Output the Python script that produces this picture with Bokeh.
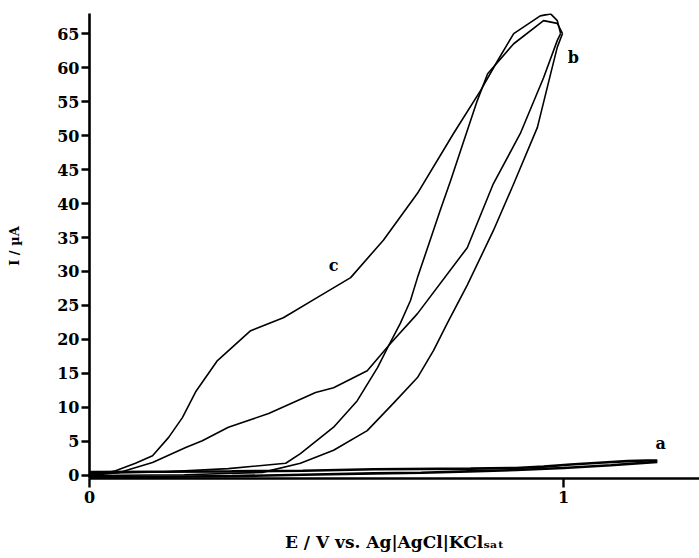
from bokeh.plotting import figure
from bokeh.models import Label, FixedTicker, Range1d
from bokeh.embed import file_html
from bokeh.resources import INLINE

# ---- data (E / V, I / uA) ----
# curve a (bare electrode): forward and reverse sweep
a_fwd_x = [0.0, 0.15, 0.3, 0.45, 0.6, 0.804, 0.9, 0.958, 1.015, 1.084, 1.135, 1.177, 1.198]
a_fwd_y = [0.5, 0.55, 0.6, 0.7, 0.9, 1.0, 1.1, 1.3, 1.6, 1.9, 2.1, 2.2, 2.2]
a_rev_x = [1.198, 1.1, 1.0, 0.9, 0.8, 0.7, 0.6, 0.45, 0.3, 0.15, 0.0]
a_rev_y = [2.0, 1.5, 1.1, 0.8, 0.6, 0.4, 0.3, 0.1, -0.1, -0.2, -0.2]

# curve b
b_fwd_x = [0.0, 0.2, 0.365, 0.445, 0.515, 0.586, 0.641, 0.692, 0.726, 0.755, 0.797,
           0.852, 0.895, 0.945, 0.973, 0.987, 0.998]
b_fwd_y = [0.0, 0.1, 0.45, 1.8, 3.7, 6.6, 10.6, 14.4, 18.4, 22.4, 28.0,
           36.0, 42.9, 51.2, 59.1, 63.0, 65.0]
b_rev_x = [0.998, 0.987, 0.958, 0.895, 0.84, 0.818, 0.783, 0.762, 0.74, 0.692, 0.677,
           0.656, 0.629, 0.608, 0.565, 0.515, 0.445, 0.414, 0.293, 0.15, 0.0]
b_rev_y = [65.0, 66.5, 66.9, 63.5, 59.1, 55.1, 47.8, 43.4, 39.0, 29.1, 25.7,
           22.4, 18.8, 15.9, 11.0, 7.1, 3.2, 1.8, 1.0, 0.5, 0.3]

# curve c
c_fwd_x = [0.0, 0.03, 0.055, 0.097, 0.133, 0.167, 0.196, 0.224, 0.27, 0.34, 0.409,
           0.481, 0.551, 0.62, 0.692, 0.768, 0.825, 0.861, 0.895, 0.951, 0.973, 0.987, 0.994]
c_fwd_y = [0.1, 0.3, 0.7, 1.8, 2.9, 5.6, 8.5, 12.3, 16.9, 21.3, 23.2,
           26.2, 29.1, 34.6, 41.5, 50.3, 56.6, 61.0, 65.0, 67.6, 67.9, 66.9, 65.0]
c_rev_x = [0.994, 0.987, 0.958, 0.909, 0.852, 0.797, 0.692, 0.635, 0.586, 0.515, 0.477,
           0.378, 0.293, 0.238, 0.203, 0.133, 0.061, 0.0]
c_rev_y = [65.0, 64.0, 58.5, 50.3, 42.9, 33.5, 23.8, 19.4, 15.4, 12.9, 12.2,
           9.1, 7.1, 5.1, 4.1, 1.9, 0.4, 0.0]

curve_names = ["a", "b", "c"]
x_ticks = [0, 1]
y_ticks = [0, 5, 10, 15, 20, 25, 30, 35, 40, 45, 50, 55, 60, 65]
x_title = "E / V vs. Ag|AgCl|KCl\u209b\u2090\u209c"
y_title = "I / µA"

FONT = "DejaVu Serif"

p = figure(width=699, height=558, output_backend="svg", toolbar_location=None,
           x_range=Range1d(0, 1.287), y_range=Range1d(-0.45, 67.95),
           min_border_left=89, min_border_right=0, min_border_top=13, min_border_bottom=80)
p.outline_line_color = None
p.xgrid.visible = False
p.ygrid.visible = False
p.background_fill_color = "white"
p.border_fill_color = "white"

for xs, ys in [(a_fwd_x, a_fwd_y), (a_rev_x, a_rev_y)]:
    p.line(xs, ys, line_color="black", line_width=2.6)
for xs, ys in [(b_fwd_x, b_fwd_y), (b_rev_x, b_rev_y), (c_fwd_x, c_fwd_y), (c_rev_x, c_rev_y)]:
    p.line(xs, ys, line_color="black", line_width=1.6, line_join="round")

for ax in (p.xaxis, p.yaxis):
    ax.axis_line_width = 2.6
    ax.axis_line_color = "black"
    ax.major_tick_line_width = 2.4
    ax.major_tick_line_color = "black"
    ax.major_tick_in = 0
    ax.minor_tick_line_color = None
    ax.major_label_text_font = FONT
    ax.major_label_text_font_style = "bold"
    ax.major_label_text_font_size = "16px"
    ax.major_label_text_color = "black"
    ax.axis_label_text_font = FONT
    ax.axis_label_text_font_style = "bold"
    ax.axis_label_text_color = "black"

p.xaxis.ticker = FixedTicker(ticks=x_ticks)
p.yaxis.ticker = FixedTicker(ticks=y_ticks)
p.xaxis.major_tick_out = 9
p.yaxis.major_tick_out = 8
p.xaxis.major_label_standoff = 3
p.yaxis.major_label_standoff = 2

p.xaxis.axis_label = x_title
p.xaxis.axis_label_text_font_size = "17px"
p.xaxis.axis_label_standoff = 26
p.yaxis.axis_label = y_title
p.yaxis.axis_label_text_font_size = "13px"
p.yaxis.axis_label_standoff = 32

# curve labels
for name, lx, ly in zip(curve_names, [1.205, 1.021, 0.515], [4.7, 61.5, 30.9]):
    p.add_layout(Label(x=lx, y=ly, text=name, text_font=FONT, text_font_style="bold",
                       text_font_size="16px", text_align="center", text_baseline="middle",
                       text_color="black"))

open("out.html", "w").write(file_html(p, INLINE))
